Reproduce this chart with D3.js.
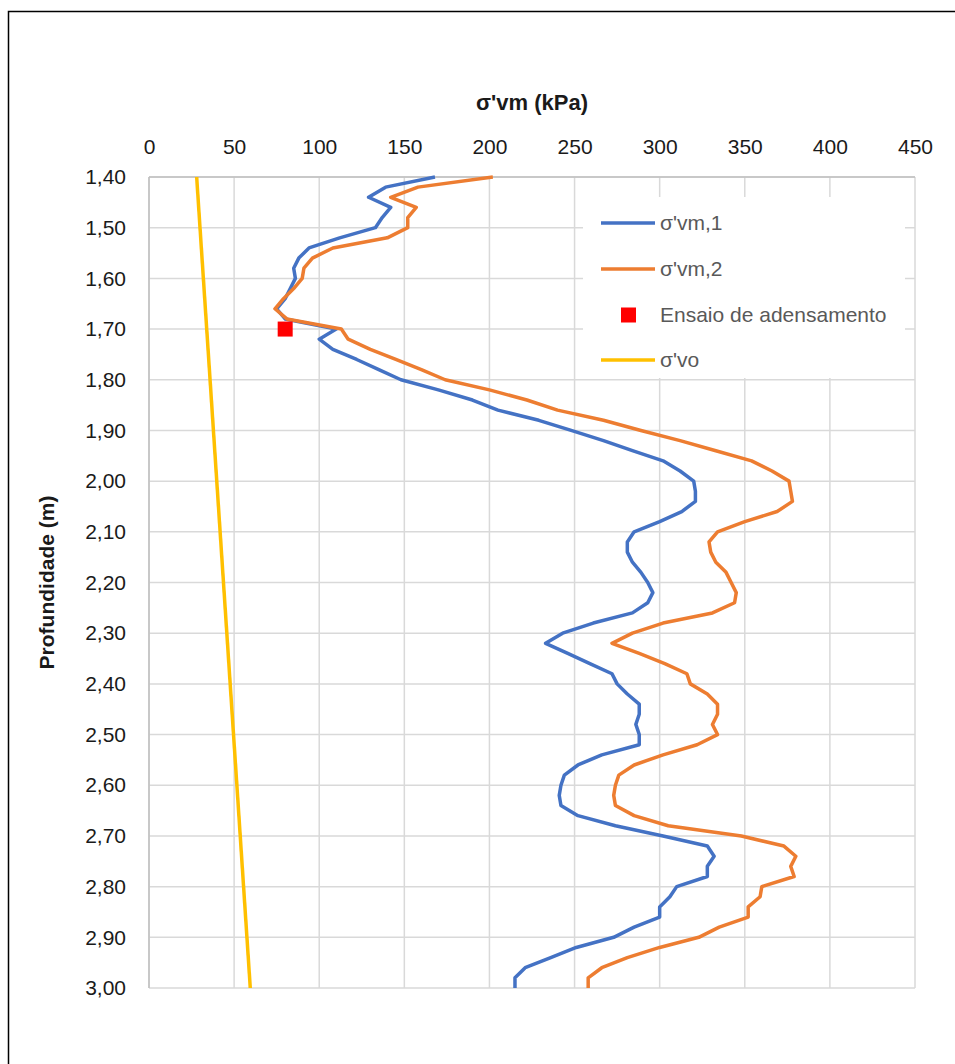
<!DOCTYPE html>
<html><head><meta charset="utf-8">
<script src="https://cdn.jsdelivr.net/npm/d3@7"></script>
<style>html,body{margin:0;padding:0;background:#fff;}svg{display:block;}</style>
</head><body>
<script>
const depths = [1.40,1.42,1.44,1.46,1.48,1.50,1.52,1.54,1.56,1.58,1.60,1.62,1.64,1.66,1.68,1.70,1.72,1.74,1.76,1.78,1.80,1.82,1.84,1.86,1.88,1.90,1.92,1.94,1.96,1.98,2.00,2.02,2.04,2.06,2.08,2.10,2.12,2.14,2.16,2.18,2.20,2.22,2.24,2.26,2.28,2.30,2.32,2.34,2.36,2.38,2.40,2.42,2.44,2.46,2.48,2.50,2.52,2.54,2.56,2.58,2.60,2.62,2.64,2.66,2.68,2.70,2.72,2.74,2.76,2.78,2.80,2.82,2.84,2.86,2.88,2.90,2.92,2.94,2.96,2.98,3.00];
const svm1 = [168,139,129,142,137,133,112,94,88,85,86,83,80,75,80,110,100,108,122,135,148,170,190,205,229,248,267,284,302,312,320,321,321,313,300,285,281,281,284,289,293,296,293,284,261,243,233,246,259,272,275,281,288,288,286,288,288,266,252,244,242,241,242,252,274,302,328,332,328,328,310,306,300,300,285,273,251,236,221,215,215];
const svm2 = [202,158,142,157,152,152,140,108,96,91,90,85,79,74,81,113,117,130,145,160,174,200,222,240,267,289,312,333,354,366,376,377,378,369,350,334,329,330,333,339,342,345,344,331,302,284,272,288,303,316,318,328,334,334,331,334,322,302,285,276,274,273,274,285,305,348,373,380,377,379,360,359,352,352,335,323,300,281,266,258,258];
const svoDepths = [1.40, 3.00];
const svoValues = [28, 59.5];
const ensaioDepth = [1.70];
const ensaioValue = [80];
const xTicks = [0,50,100,150,200,250,300,350,400,450];
const yTicks = [1.40,1.50,1.60,1.70,1.80,1.90,2.00,2.10,2.20,2.30,2.40,2.50,2.60,2.70,2.80,2.90,3.00];
const legendLabels = ["σ'vm,1","σ'vm,2","Ensaio de adensamento","σ'vo"];
const colors = {s1:"#4472C4", s2:"#ED7D31", ens:"#FF0000", svo:"#FFC000"};

const W=955,H=1064;
const L=149,R=915,T=177,B=988;
const svg=d3.select("body").append("svg").attr("width",W).attr("height",H);
svg.append("rect").attr("x",8.5).attr("y",11.5).attr("width",1000).attr("height",1100)
  .attr("fill","#fff").attr("stroke","#000").attr("stroke-width",1.5);

const x=d3.scaleLinear().domain([0,450]).range([L,R]);
const y=d3.scaleLinear().domain([1.40,3.00]).range([T,B]);
const font="'Liberation Sans', Arial, sans-serif";

// gridlines
const g=svg.append("g");
g.selectAll(".vg").data(xTicks).enter().append("line")
  .attr("x1",d=>x(d)).attr("x2",d=>x(d)).attr("y1",T).attr("y2",B)
  .attr("stroke","#d9d9d9").attr("stroke-width",1.5);
g.selectAll(".hg").data(yTicks).enter().append("line")
  .attr("x1",L).attr("x2",R).attr("y1",d=>y(d)).attr("y2",d=>y(d))
  .attr("stroke","#d9d9d9").attr("stroke-width",1.5);
// axis lines
svg.append("line").attr("x1",L).attr("x2",L).attr("y1",T).attr("y2",B).attr("stroke","#bfbfbf").attr("stroke-width",1.5);
svg.append("line").attr("x1",L).attr("x2",R).attr("y1",T).attr("y2",T).attr("stroke","#bfbfbf").attr("stroke-width",1.5);

// axes labels via d3 axes
const xAxis=d3.axisTop(x).tickValues(xTicks).tickSize(0).tickPadding(0).tickFormat(d=>String(d));
const xa=svg.append("g").attr("transform",`translate(0,${T-23})`).call(xAxis);
xa.select(".domain").remove();
xa.selectAll("text").attr("font-family",font).attr("font-size",21).attr("fill","#1a1a1a");

const fmt=d=>d.toFixed(2).replace(".",",");
const yAxis=d3.axisLeft(y).tickValues(yTicks).tickSize(0).tickPadding(0).tickFormat(fmt);
const ya=svg.append("g").attr("transform",`translate(${L-23},0)`).call(yAxis);
ya.select(".domain").remove();
ya.selectAll("text").attr("font-family",font).attr("font-size",21).attr("fill","#1a1a1a");

// titles
svg.append("text").attr("x",(L+R)/2).attr("y",110).attr("text-anchor","middle")
  .attr("font-family",font).attr("font-weight","bold").attr("font-size",22).attr("fill","#1a1a1a")
  .text("σ'vm (kPa)");
svg.append("text").attr("transform",`translate(54,${(T+B)/2}) rotate(-90)`).attr("text-anchor","middle")
  .attr("font-family",font).attr("font-weight","bold").attr("font-size",21).attr("fill","#1a1a1a")
  .text("Profundidade (m)");

// lines
const line=d3.line().x(d=>x(d[0])).y(d=>y(d[1]));
const s1=depths.map((d,i)=>[svm1[i],d]);
const s2=depths.map((d,i)=>[svm2[i],d]);
const sv=svoDepths.map((d,i)=>[svoValues[i],d]);
svg.append("path").datum(sv).attr("d",line).attr("fill","none").attr("stroke",colors.svo).attr("stroke-width",3.5);
svg.append("path").datum(s1).attr("d",line).attr("fill","none").attr("stroke",colors.s1).attr("stroke-width",3.5).attr("stroke-linejoin","round");
svg.append("path").datum(s2).attr("d",line).attr("fill","none").attr("stroke",colors.s2).attr("stroke-width",3.5).attr("stroke-linejoin","round");
svg.selectAll(".ens").data(ensaioDepth).enter().append("rect")
  .attr("x",(d,i)=>x(ensaioValue[i])-7.5).attr("y",d=>y(d)-7.5).attr("width",15).attr("height",15).attr("fill",colors.ens);

// legend
const lg=svg.append("g");
lg.append("rect").attr("x",583).attr("y",197).attr("width",322).attr("height",181).attr("fill","#fff");
const ly=[223,269,315,360];
const lc=[colors.s1,colors.s2,colors.ens,colors.svo];
legendLabels.forEach((t,i)=>{
  if(i===2){
    lg.append("rect").attr("x",621).attr("y",ly[i]-7.5).attr("width",15).attr("height",15).attr("fill",lc[i]);
  } else {
    lg.append("line").attr("x1",601).attr("x2",655).attr("y1",ly[i]).attr("y2",ly[i]).attr("stroke",lc[i]).attr("stroke-width",3.5);
  }
  lg.append("text").attr("x",660).attr("y",ly[i]).attr("dy","0.35em")
    .attr("font-family",font).attr("font-size",21).attr("fill","#595959").text(t);
});
</script>
</body></html>
